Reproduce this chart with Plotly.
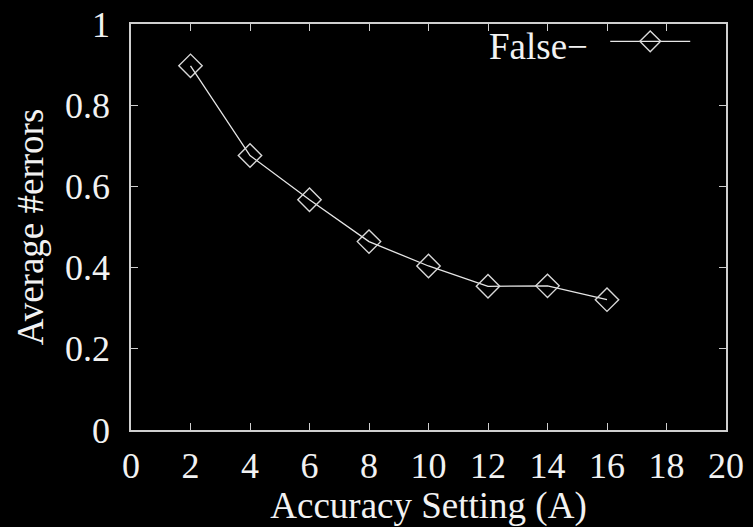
import plotly.graph_objects as go

# Average number of errors per accuracy setting
accuracy_setting = [2, 4, 6, 8, 10, 12, 14, 16]
avg_errors = [0.897, 0.676, 0.567, 0.464, 0.404, 0.354, 0.355, 0.321]

x_ticks = list(range(0, 21, 2))
y_ticks = [0, 0.2, 0.4, 0.6, 0.8, 1]

FONT = "Liberation Serif"
AXIS_COLOR = "#cfcfcf"
TEXT_COLOR = "#f2f2f2"

fig = go.Figure()
fig.add_trace(go.Scatter(
    x=accuracy_setting,
    y=avg_errors,
    mode="lines+markers",
    name="",
    line=dict(color="#e6e6e6", width=1.3),
    marker=dict(symbol="diamond-open", size=18,
                color="#d8d8d8", line=dict(width=1.4, color="#d8d8d8")),
))

axis_common = dict(
    showline=True, linecolor=AXIS_COLOR, linewidth=1.5,
    mirror="ticks", ticks="inside", ticklen=7, tickwidth=1.3,
    tickcolor=AXIS_COLOR, showgrid=False, zeroline=False,
    automargin=False,
    tickfont=dict(family=FONT, size=36, color=TEXT_COLOR),
)

fig.update_layout(
    width=753, height=527,
    margin=dict(l=131, r=27, t=23, b=97),
    paper_bgcolor="black", plot_bgcolor="black",
    font=dict(family=FONT, color=TEXT_COLOR),
    showlegend=True,
    legend=dict(
        x=0.958, y=1.03, xanchor="right", yanchor="top",
        bgcolor="rgba(0,0,0,0)",
        title=dict(text="False\u2212 ", side="left",
                   font=dict(family=FONT, size=37, color=TEXT_COLOR)),
        font=dict(family=FONT, size=37, color=TEXT_COLOR),
        itemwidth=80,
    ),
    xaxis=dict(
        range=[0, 20], tickvals=x_ticks, ticklabelstandoff=3,
        title=dict(text="Accuracy Setting (A)", standoff=4,
                   font=dict(family=FONT, size=37, color=TEXT_COLOR)),
        **axis_common,
    ),
    yaxis=dict(
        range=[0, 1], tickvals=y_ticks, ticklabelstandoff=12,
        title=dict(text="Average #errors", standoff=10,
                   font=dict(family=FONT, size=37, color=TEXT_COLOR)),
        **axis_common,
    ),
)

# Secondary axis label, running off the right edge of the page
fig.add_annotation(
    text="Overhead Cost", xref="paper", yref="paper",
    x=1.034, y=0.475, xanchor="left", yanchor="middle",
    textangle=-90, showarrow=False,
    font=dict(family=FONT, size=37, color=TEXT_COLOR),
)

fig.write_html("out.html")
